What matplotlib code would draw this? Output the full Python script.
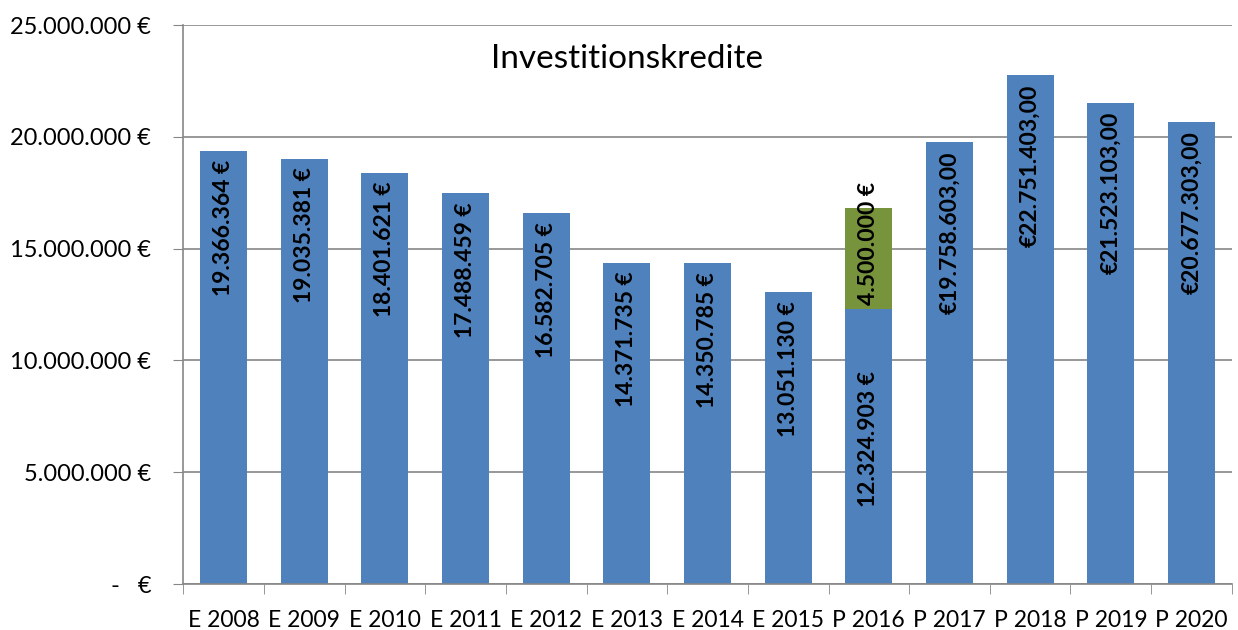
import numpy as np
import matplotlib.pyplot as plt

plt.rcParams['font.family'] = ['Lato', 'DejaVu Sans']

years = ["E 2008", "E 2009", "E 2010", "E 2011", "E 2012", "E 2013", "E 2014",
         "E 2015", "P 2016", "P 2017", "P 2018", "P 2019", "P 2020"]
base = [19366364, 19035381, 18401621, 17488459, 16582705, 14371735, 14350785,
        13051130, 12324903, 19758603, 22751403, 21523103, 20677303]
extra = [0, 0, 0, 0, 0, 0, 0, 0, 4500000, 0, 0, 0, 0]
labels = ["19.366.364 €", "19.035.381 €", "18.401.621 €", "17.488.459 €",
          "16.582.705 €", "14.371.735 €", "14.350.785 €", "13.051.130 €",
          "12.324.903 €", "€19.758.603,00", "€22.751.403,00", "€21.523.103,00",
          "€20.677.303,00"]
extra_label = "4.500.000 €"
yticks = [0, 5000000, 10000000, 15000000, 20000000, 25000000]
ytick_labels = ["-   €", "5.000.000 €", "10.000.000 €", "15.000.000 €",
                "20.000.000 €", "25.000.000 €"]

blue = "#4F81BD"
green = "#77933C"
grid = "#868686"

fig = plt.figure(figsize=(12.38, 6.3), dpi=100)
ax = fig.add_axes([0.148, 0.073, 0.847, 0.887])

x = np.arange(len(years))
ax.bar(x, base, width=0.58, color=blue, zorder=2)
ax.bar(x, extra, width=0.58, bottom=base, color=green, zorder=2)

for i, (v, lab) in enumerate(zip(base, labels)):
    if extra[i] > 0:
        ax.text(i, v / 2 + 300000, lab, rotation=90, ha="center", va="center",
                fontsize=16.5, fontweight="bold", zorder=3)
    else:
        ax.text(i, v - 400000, lab, rotation=90, ha="center", va="top",
                fontsize=16.5, fontweight="bold", zorder=3)
for i, e in enumerate(extra):
    if e > 0:
        ax.text(i, base[i] + 150000, extra_label, rotation=90, ha="center",
                va="bottom", fontsize=16.5, fontweight="bold", zorder=3)

ax.set_xlim(-0.5, len(years) - 0.5)
ax.set_ylim(0, 25000000)
ax.set_yticks(yticks)
ax.set_yticklabels(ytick_labels, fontsize=17)
ax.set_xticks(x)
ax.set_xticklabels(years, fontsize=16.5)
ax.set_xticks(np.arange(-0.5, len(years)), minor=True)
ax.tick_params(axis="x", which="major", length=0, pad=19)
ax.tick_params(axis="x", which="minor", length=7, color=grid, direction="out")
ax.tick_params(axis="y", length=7, color=grid, direction="out", pad=16)
ax.yaxis.grid(True, color=grid, linewidth=1.2, zorder=0)
ax.set_axisbelow(True)
for s in ["top", "right"]:
    ax.spines[s].set_visible(False)
for s in ["left", "bottom"]:
    ax.spines[s].set_color(grid)
    ax.spines[s].set_linewidth(1.2)

ax.text(0.423, 0.94, "Investitionskredite", transform=ax.transAxes,
        ha="center", va="center", fontsize=24)

fig.savefig("out.png", dpi=100)
